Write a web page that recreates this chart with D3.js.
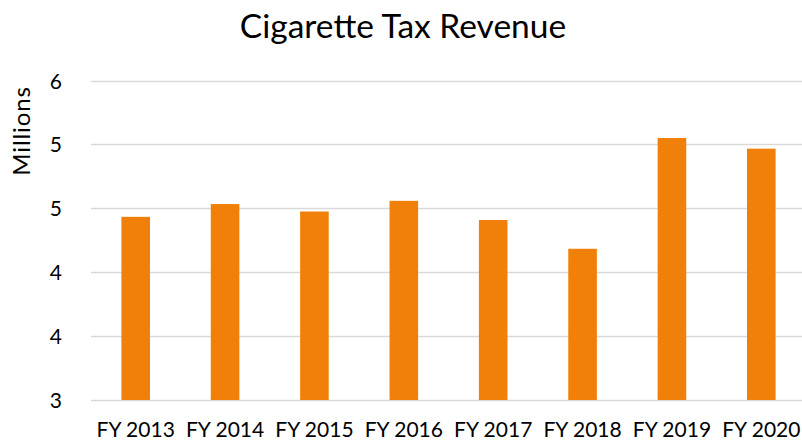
<!DOCTYPE html>
<html>
<head>
<meta charset="utf-8">
<script src="https://cdn.jsdelivr.net/npm/d3@7"></script>
<style>
  html, body { margin: 0; padding: 0; background: #fff; }
  svg { display: block; font-family: Lato, "Open Sans", sans-serif; }
</style>
</head>
<body>
<svg id="chart" width="802" height="441"></svg>
<script>
// Cigarette tax revenue by fiscal year, in millions
const fiscalYears = ["FY 2013", "FY 2014", "FY 2015", "FY 2016", "FY 2017", "FY 2018", "FY 2019", "FY 2020"];
const revenue = [4.72, 4.84, 4.77, 4.87, 4.69, 4.42, 5.46, 5.36];
const yTicks = [3, 3.6, 4.2, 4.8, 5.4, 6];

const svg = d3.select("#chart");
const W = 802, H = 441;
const plot = { left: 91, right: 806, top: 80.5, bottom: 400 };

const x = d3.scaleBand()
  .domain(fiscalYears)
  .range([plot.left, plot.right])
  .paddingInner(0.68)
  .paddingOuter(0.34);

const y = d3.scaleLinear()
  .domain([3, 6])
  .range([plot.bottom, plot.top]);

// Title
svg.append("text")
  .attr("x", 403)
  .attr("y", 38)
  .attr("text-anchor", "middle")
  .attr("font-size", 33.5)
  .attr("fill", "#000")
  .text("Cigarette Tax Revenue");

// Horizontal gridlines
svg.append("g")
  .selectAll("line")
  .data(yTicks)
  .join("line")
  .attr("x1", plot.left)
  .attr("x2", W)
  .attr("y1", d => Math.round(y(d)) + 0.5)
  .attr("y2", d => Math.round(y(d)) + 0.5)
  .attr("stroke", "#d9d9d9")
  .attr("stroke-width", 1.5);

// Y axis labels (rounded to whole millions)
const yAxis = d3.axisLeft(y)
  .tickValues(yTicks)
  .tickFormat(d3.format(".0f"))
  .tickSize(0)
  .tickPadding(0);
const gy = svg.append("g")
  .attr("transform", `translate(62,0)`)
  .call(yAxis);
gy.select(".domain").remove();
gy.selectAll("text")
  .attr("font-family", "Lato, 'Open Sans', sans-serif")
  .attr("font-size", 21)
  .attr("fill", "#000")
  .attr("dy", "0.36em");

// Y axis title
svg.append("text")
  .attr("transform", "translate(30,131) rotate(-90)")
  .attr("text-anchor", "middle")
  .attr("font-size", 24)
  .attr("letter-spacing", 0.9)
  .attr("fill", "#000")
  .text("Millions");

// Bars
svg.append("g")
  .selectAll("rect")
  .data(fiscalYears.map((fy, i) => ({ fy, v: revenue[i] })))
  .join("rect")
  .attr("x", d => x(d.fy))
  .attr("width", x.bandwidth())
  .attr("y", d => y(d.v))
  .attr("height", d => y(3) - y(d.v))
  .attr("fill", "#f0800a");

// X axis labels
const xAxis = d3.axisBottom(x).tickSize(0).tickPadding(0);
const gx = svg.append("g")
  .attr("transform", `translate(0,${plot.bottom})`)
  .call(xAxis);
gx.select(".domain").remove();
gx.selectAll("text")
  .attr("font-family", "Lato, 'Open Sans', sans-serif")
  .attr("font-size", 21)
  .attr("fill", "#000")
  .attr("dy", null)
  .attr("y", 37);
</script>
</body>
</html>
